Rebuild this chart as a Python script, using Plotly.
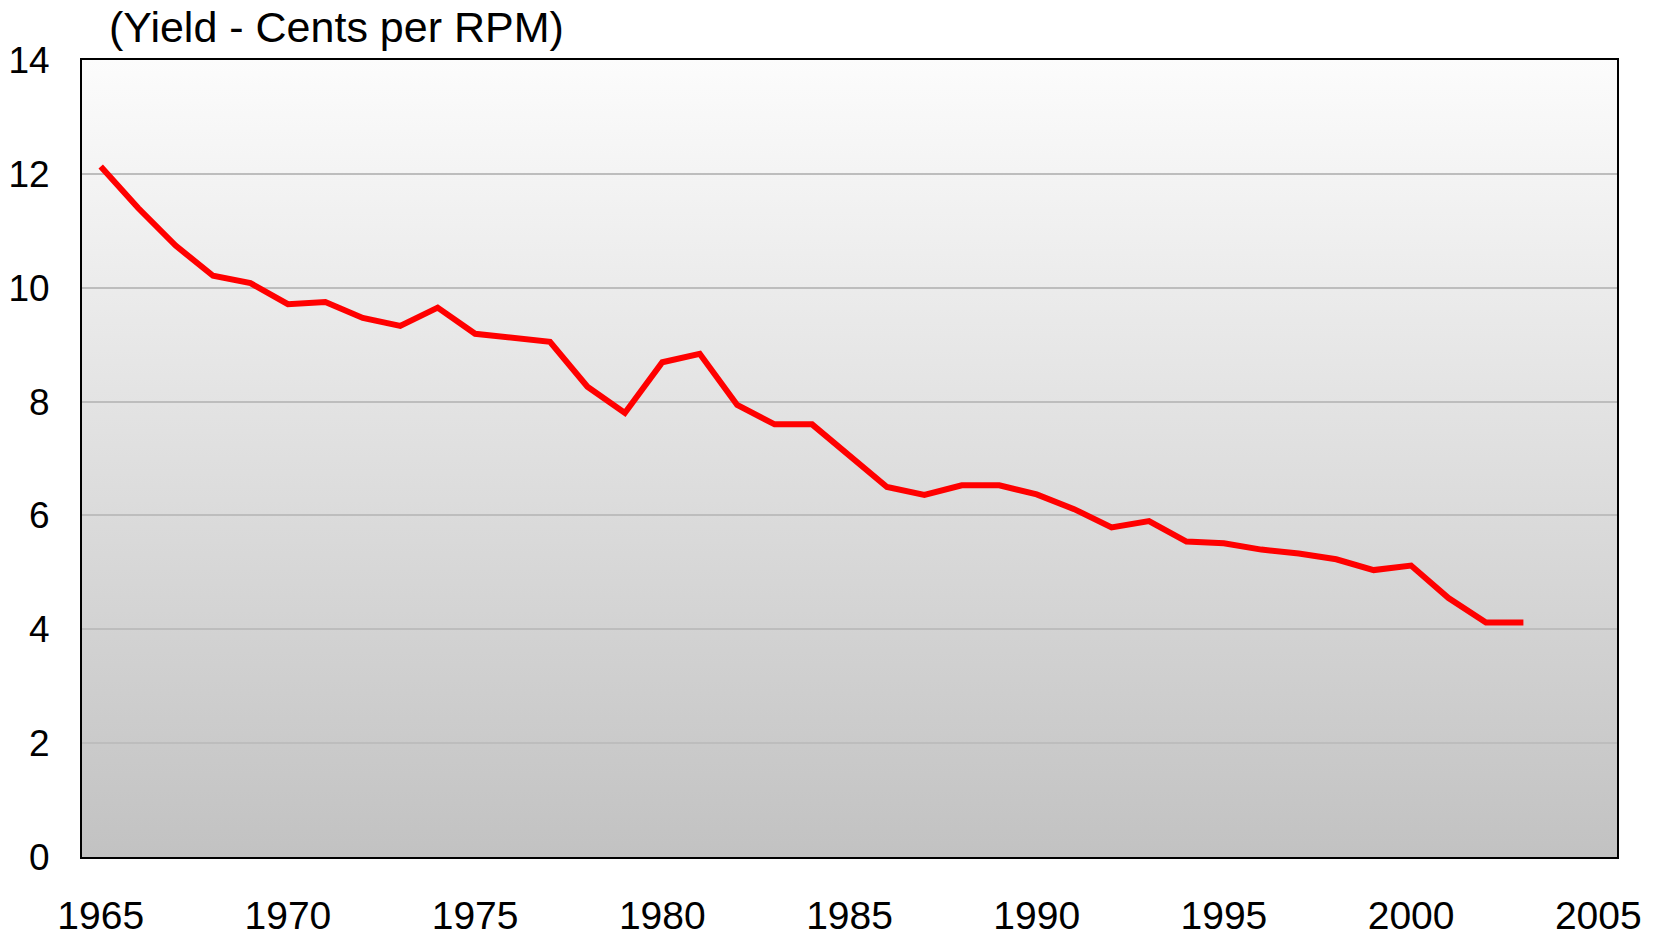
import base64
import plotly.graph_objects as go

# ---- data ----
years = list(range(1965, 2004))
yield_cents = [
    12.13, 11.40, 10.74, 10.21, 10.08, 9.71, 9.75, 9.47, 9.33, 9.65,
    9.19, 9.12, 9.05, 8.26, 7.80, 8.69, 8.84, 7.94, 7.60, 7.60,
    7.06, 6.50, 6.36, 6.53, 6.53, 6.37, 6.11, 5.79, 5.90, 5.54,
    5.51, 5.40, 5.33, 5.23, 5.04, 5.12, 4.55, 4.12, 4.12,
]
x_ticks = [1965, 1970, 1975, 1980, 1985, 1990, 1995, 2000, 2005]
y_ticks = [0, 2, 4, 6, 8, 10, 12, 14]
title_text = "(Yield - Cents per RPM)"

FONT = "Arial, Liberation Sans, sans-serif"

# vertical gradient background (as an SVG image)
svg = (
    '<svg xmlns="http://www.w3.org/2000/svg" width="10" height="100" '
    'viewBox="0 0 10 100" preserveAspectRatio="none">'
    '<defs><linearGradient id="g" x1="0" y1="0" x2="0" y2="1">'
    '<stop offset="0" stop-color="#fcfcfc"/>'
    '<stop offset="1" stop-color="#c2c2c2"/>'
    '</linearGradient></defs>'
    '<rect x="0" y="0" width="10" height="100" fill="url(#g)"/></svg>'
)
svg_uri = "data:image/svg+xml;base64," + base64.b64encode(svg.encode()).decode()

fig = go.Figure()
fig.add_trace(go.Scatter(
    x=years, y=yield_cents, mode="lines",
    line=dict(color="#ff0000", width=6),
    hoverinfo="skip", showlegend=False,
))

fig.add_layout_image(dict(
    source=svg_uri, xref="paper", yref="paper", x=0, y=1,
    sizex=1, sizey=1, sizing="stretch", layer="below",
    xanchor="left", yanchor="top",
))

fig.add_annotation(
    text=title_text, xref="paper", yref="paper",
    x=0.016, y=1.041, xanchor="left", yanchor="middle",
    showarrow=False, font=dict(family=FONT, size=43, color="#000000"),
)

# page body has an 8px margin, so the figure is sized to fit inside it
fig.update_layout(
    width=1654, height=926,
    margin=dict(l=74, r=45, t=52, b=77),
    paper_bgcolor="#ffffff",
    plot_bgcolor="rgba(0,0,0,0)",
    font=dict(family=FONT, size=39, color="#000000"),
    showlegend=False,
    hovermode=False,
)
fig.update_xaxes(
    range=[1964.5, 2005.5], tickmode="array", tickvals=x_ticks,
    ticktext=[str(t) for t in x_ticks],
    showgrid=False, zeroline=False, ticks="", automargin=False,
    showline=True, linecolor="#000000", linewidth=2, mirror=True,
    ticklabelstandoff=23,
    tickfont=dict(family=FONT, size=39, color="#000000"),
)
fig.update_yaxes(
    range=[0, 14], tickmode="array", tickvals=y_ticks,
    showgrid=True, gridcolor="#bdbdbd", gridwidth=1.5,
    zeroline=False, ticks="", automargin=False,
    showline=True, linecolor="#000000", linewidth=2, mirror=True,
    ticklabelstandoff=23,
    tickfont=dict(family=FONT, size=37, color="#000000"),
)

fig.write_html("out.html", config={"displayModeBar": False})
